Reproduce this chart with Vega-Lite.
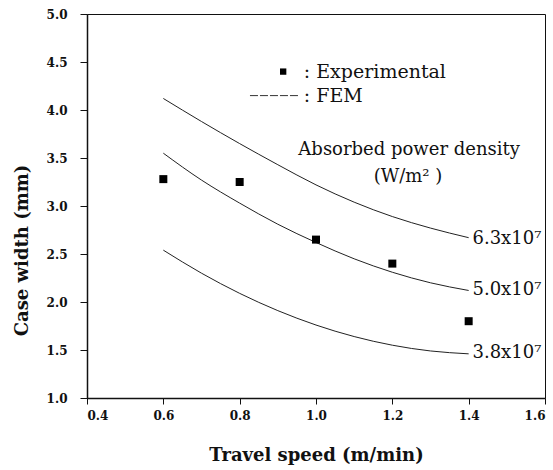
{
  "$schema": "https://vega.github.io/schema/vega-lite/v6.json",
  "width": 458,
  "height": 384,
  "autosize": {"type": "none"},
  "padding": {"left": 87, "top": 14, "right": 8, "bottom": 72},
  "background": "white",
  "config": {
    "view": {"stroke": "#111", "strokeWidth": 1},
    "axis": {
      "domainColor": "#111", "domainWidth": 1.5, "tickColor": "#111", "tickWidth": 1,
      "labelFont": "DejaVu Serif", "labelFontWeight": "bold", "labelFontSize": 12, "labelColor": "#111",
      "titleFont": "DejaVu Serif", "titleFontWeight": "bold", "titleFontSize": 18, "titleColor": "#111",
      "grid": false
    }
  },
  "datasets": {
    "curves": [
      {"series": "6.3", "speed": 0.6, "width": 4.12},
      {"series": "6.3", "speed": 0.7, "width": 3.88},
      {"series": "6.3", "speed": 0.8, "width": 3.65},
      {"series": "6.3", "speed": 0.9, "width": 3.43},
      {"series": "6.3", "speed": 1.0, "width": 3.22},
      {"series": "6.3", "speed": 1.1, "width": 3.04},
      {"series": "6.3", "speed": 1.2, "width": 2.89},
      {"series": "6.3", "speed": 1.3, "width": 2.77},
      {"series": "6.3", "speed": 1.4, "width": 2.67},
      {"series": "5.0", "speed": 0.6, "width": 3.55},
      {"series": "5.0", "speed": 0.7, "width": 3.27},
      {"series": "5.0", "speed": 0.8, "width": 3.03},
      {"series": "5.0", "speed": 0.9, "width": 2.81},
      {"series": "5.0", "speed": 1.0, "width": 2.62},
      {"series": "5.0", "speed": 1.1, "width": 2.45},
      {"series": "5.0", "speed": 1.2, "width": 2.31},
      {"series": "5.0", "speed": 1.3, "width": 2.20},
      {"series": "5.0", "speed": 1.4, "width": 2.12},
      {"series": "3.8", "speed": 0.6, "width": 2.54},
      {"series": "3.8", "speed": 0.7, "width": 2.30},
      {"series": "3.8", "speed": 0.8, "width": 2.09},
      {"series": "3.8", "speed": 0.9, "width": 1.91},
      {"series": "3.8", "speed": 1.0, "width": 1.76},
      {"series": "3.8", "speed": 1.1, "width": 1.64},
      {"series": "3.8", "speed": 1.2, "width": 1.55},
      {"series": "3.8", "speed": 1.3, "width": 1.49},
      {"series": "3.8", "speed": 1.4, "width": 1.46}
    ],
    "experimental": [
      {"speed": 0.6, "width": 3.28},
      {"speed": 0.8, "width": 3.25},
      {"speed": 1.0, "width": 2.65},
      {"speed": 1.2, "width": 2.40},
      {"speed": 1.4, "width": 1.80}
    ],
    "curveLabels": [
      {"speed": 1.41, "width": 2.66, "label": "6.3x10⁷"},
      {"speed": 1.41, "width": 2.12, "label": "5.0x10⁷"},
      {"speed": 1.41, "width": 1.47, "label": "3.8x10⁷"}
    ],
    "legendText": [
      {"speed": 0.968, "width": 4.40, "label": ": Experimental"},
      {"speed": 0.968, "width": 4.15, "label": ": FEM"}
    ],
    "legendHead": [
      {"speed": 1.244, "width": 3.58, "label": "Absorbed power density"},
      {"speed": 1.241, "width": 3.30, "label": "(W/m² )"}
    ],
    "legendSquare": [{"speed": 0.914, "width": 4.40}],
    "legendLine": [{"speed": 0.827, "speed2": 0.955, "width": 4.15}]
  },
  "layer": [
    {
      "data": {"name": "curves"},
      "mark": {"type": "line", "interpolate": "monotone", "color": "#222", "strokeWidth": 1},
      "encoding": {
        "x": {
          "field": "speed", "type": "quantitative",
          "scale": {"domain": [0.4, 1.6], "nice": false, "zero": false},
          "axis": {
            "title": "Travel speed (m/min)",
            "values": [0.4, 0.5, 0.6, 0.7, 0.8, 0.9, 1.0, 1.1, 1.2, 1.3, 1.4, 1.5, 1.6],
            "labelExpr": "round(datum.value*10)%2==0 ? format(datum.value,'.1f') : ''",
            "tickSize": {"condition": {"test": "round(datum.value*10)%2==0", "value": 6}, "value": 4},
            "labelPadding": 6,
            "labelOverlap": false,
            "titlePadding": 25
          }
        },
        "y": {
          "field": "width", "type": "quantitative",
          "scale": {"domain": [1.0, 5.0], "nice": false, "zero": false},
          "axis": {
            "title": "Case width (mm)",
            "values": [1.0, 1.25, 1.5, 1.75, 2.0, 2.25, 2.5, 2.75, 3.0, 3.25, 3.5, 3.75, 4.0, 4.25, 4.5, 4.75, 5.0],
            "labelExpr": "round(datum.value*4)%2==0 ? format(datum.value,'.1f') : ''",
            "tickSize": {"condition": {"test": "round(datum.value*4)%2==0", "value": 7}, "value": 4},
            "labelPadding": 13,
            "labelOverlap": false,
            "titlePadding": 15,
            "titleY": 236
          }
        },
        "detail": {"field": "series"}
      }
    },
    {
      "data": {"name": "experimental"},
      "mark": {"type": "square", "size": 64, "filled": true, "color": "#000", "opacity": 1},
      "encoding": {
        "x": {"field": "speed", "type": "quantitative"},
        "y": {"field": "width", "type": "quantitative"}
      }
    },
    {
      "data": {"name": "curveLabels"},
      "mark": {"type": "text", "align": "left", "baseline": "middle", "font": "DejaVu Serif", "fontSize": 18, "color": "#111"},
      "encoding": {
        "x": {"field": "speed", "type": "quantitative"},
        "y": {"field": "width", "type": "quantitative"},
        "text": {"field": "label"}
      }
    },
    {
      "data": {"name": "legendText"},
      "mark": {"type": "text", "align": "left", "baseline": "middle", "font": "DejaVu Serif", "fontSize": 19, "color": "#111"},
      "encoding": {
        "x": {"field": "speed", "type": "quantitative"},
        "y": {"field": "width", "type": "quantitative"},
        "text": {"field": "label"}
      }
    },
    {
      "data": {"name": "legendHead"},
      "mark": {"type": "text", "align": "center", "baseline": "middle", "font": "DejaVu Serif", "fontSize": 18, "color": "#111"},
      "encoding": {
        "x": {"field": "speed", "type": "quantitative"},
        "y": {"field": "width", "type": "quantitative"},
        "text": {"field": "label"}
      }
    },
    {
      "data": {"name": "legendSquare"},
      "mark": {"type": "square", "size": 40, "filled": true, "color": "#000", "opacity": 1},
      "encoding": {
        "x": {"field": "speed", "type": "quantitative"},
        "y": {"field": "width", "type": "quantitative"}
      }
    },
    {
      "data": {"name": "legendLine"},
      "mark": {"type": "rule", "color": "#333", "strokeWidth": 1, "strokeDash": [8, 2]},
      "encoding": {
        "x": {"field": "speed", "type": "quantitative"},
        "x2": {"field": "speed2"},
        "y": {"field": "width", "type": "quantitative"}
      }
    }
  ]
}
